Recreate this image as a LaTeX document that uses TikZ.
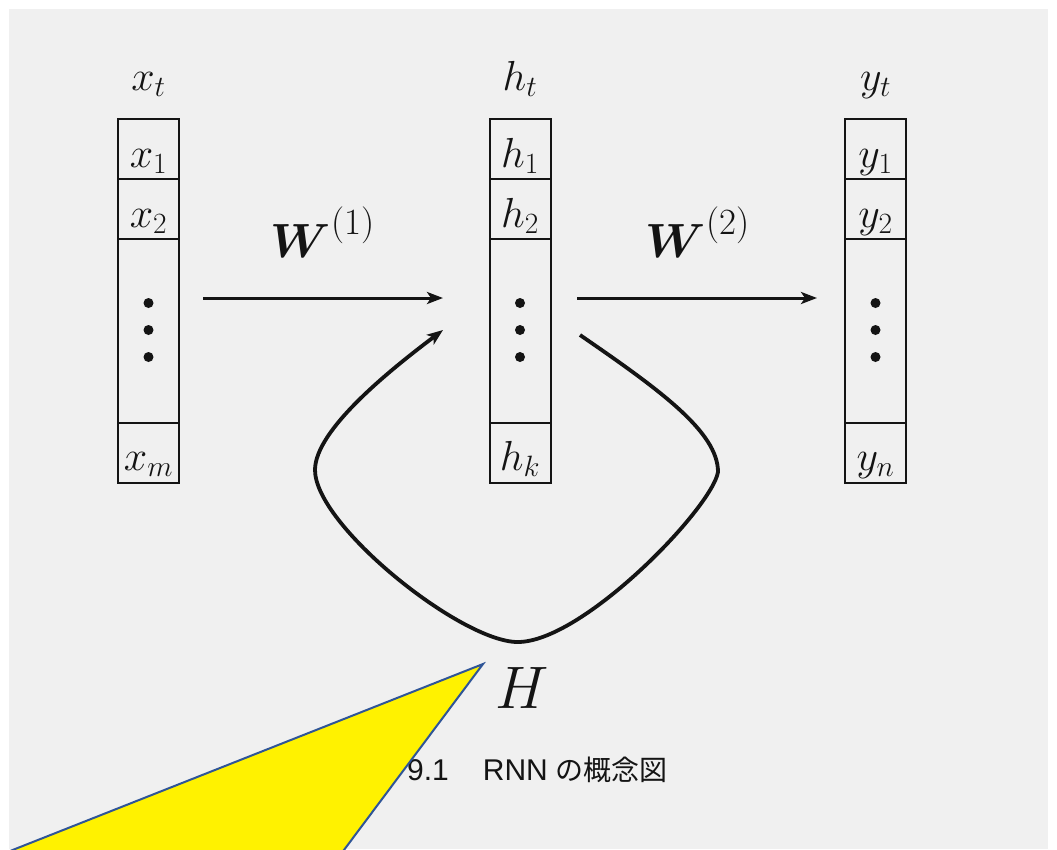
\RequirePackage{fix-cm}
\documentclass[tikz,border=0pt]{standalone}
\usepackage{fontspec}
\usepackage{bm}
\newfontfamily\jpfont{Noto Sans CJK JP}
\newfontfamily\capfont{Liberation Sans}
\usetikzlibrary{arrows.meta}
\definecolor{pagebg}{RGB}{240,240,240}
\definecolor{ink}{RGB}{20,20,20}
\definecolor{tribl}{RGB}{47,85,151}
\begin{document}
\begin{tikzpicture}[x=1pt,y=-1pt,
  cell/.style={draw=ink, line width=2pt, minimum width=61pt, minimum height=60pt, inner sep=0pt, outer sep=0pt, anchor=north},
  lab/.style={anchor=base, inner sep=0pt, text=ink, font=\fontsize{42}{50}\selectfont},
  wlab/.style={anchor=base west, inner sep=0pt, text=ink, font=\fontsize{48}{56}\selectfont},
  arr/.style={draw=ink, line width=3pt, -{Stealth[length=16pt,width=12pt,inset=4pt]}},
  loopline/.style={draw=ink, line width=3.8pt, -{Stealth[length=16pt,width=12pt,inset=4pt]}}]
\useasboundingbox (0,0) rectangle (1057,849);
\fill[white] (0,0) rectangle (1057,849);
\fill[pagebg] (9,9) rectangle (1048,849);
% columns
\foreach \n/\cx/\v/\last in {x/148.5/x/m, h/520/h/k, y/875.5/y/n} {
  \node[cell] (\n1) at (\cx,119) {};
  \node[cell] (\n2) at (\cx,179) {};
  \node[cell, minimum height=184pt] (\n3) at (\cx,239) {};
  \node[cell] (\n4) at (\cx,423) {};
  \node[lab] (\n t) at (\cx,90) {$\v_t$};
  \node[lab] (\n l1) at (\cx,167) {$\v_1$};
  \node[lab] (\n l2) at (\cx,227) {$\v_2$};
  \node[lab] (\n lm) at (\cx,470) {$\v_\last$};
  \fill[ink] (\cx,303) circle (5pt);
  \fill[ink] (\cx,330) circle (5pt);
  \fill[ink] (\cx,357) circle (5pt);
}
% arrows
\coordinate (a1s) at (203,298);
\coordinate (a1e) at (443,298);
\coordinate (a2s) at (577,298);
\coordinate (a2e) at (817,298);
\draw[arr] (a1s) -- (a1e);
\draw[arr] (a2s) -- (a2e);
\node[wlab] (w1) at (270,257) {$\bm{W}$\hspace{1pt}\raisebox{23pt}{\fontsize{37}{42}\selectfont(1)}};
\node[wlab] (w2) at (645,257) {$\bm{W}$\hspace{1pt}\raisebox{23pt}{\fontsize{37}{42}\selectfont(2)}};
% recurrent loop
\coordinate (ls) at (580,335);
\coordinate (lr) at (718,472);
\coordinate (lb) at (517,642);
\coordinate (ll) at (315,470);
\coordinate (le) at (443,330);
\draw[loopline] (ls) .. controls (660,390) and (718,432) .. (lr)
  .. controls (712,508) and (582,643) .. (lb)
  .. controls (460,641) and (315,525) .. (ll)
  .. controls (315,430) and (390,370) .. (le);
\node[anchor=base, inner sep=0pt, text=ink, font=\fontsize{60}{70}\selectfont] (H) at (522,708) {$H$};
% caption
\node[anchor=base west, inner sep=0pt, text=ink] (cap) at (407,780)
  {{\capfont\fontsize{30}{34}\selectfont 9.1\hspace{34pt}RNN}\hspace{8pt}{\jpfont\fontsize{28}{32}\selectfont の概念図}};
% yellow callout
\begin{scope}
\clip (0,0) rectangle (1057,849);
\filldraw[fill=yellow, draw=tribl, line width=2pt, line join=miter] (483,664) -- (-38,870) -- (329,870) -- cycle;
\end{scope}
\end{tikzpicture}
\end{document}
